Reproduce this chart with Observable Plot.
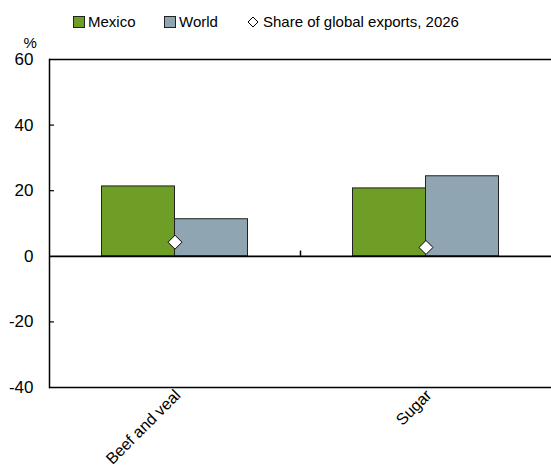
<!DOCTYPE html>
<html>
<head>
<meta charset="utf-8">
<script src="https://cdn.jsdelivr.net/npm/d3@7"></script>
<script src="https://cdn.jsdelivr.net/npm/@observablehq/plot@0.6"></script>
<style>
  html, body { margin: 0; padding: 0; background: #fff; overflow: hidden; }
  body { width: 551px; height: 471px; font-family: "Liberation Sans", Arial, sans-serif; }
  #legend { position: relative; height: 30px; font-size: 15px; color: #000; }
  #legend .item { position: absolute; top: 13px; display: flex; align-items: center; white-space: nowrap; }
  #legend .sw { width: 10px; height: 10px; border: 1px solid #222; margin-right: 3px; box-sizing: content-box; }
  #legend svg { margin-right: 4px; }
</style>
</head>
<body>
<div id="legend"></div>
<div id="chart"></div>
<script>
const categories = ["Beef and veal", "Sugar"];
const series = ["Mexico", "World"];
const mexicoValues = [21.3, 20.7];
const worldValues = [11.3, 24.4];
const shareValues = [4.3, 2.7];
const shareLabel = "Share of global exports, 2026";
const yTicks = [-40, -20, 0, 20, 40, 60];
const colors = {Mexico: "#6f9e27", World: "#8fa5b2"};

const width = 551, height = 441, marginLeft = 49, marginRight = 0, marginTop = 29, marginBottom = 84;
const band = (width - marginLeft - marginRight) / categories.length;
const barW = 73;

const bars = [];
categories.forEach((c, i) => {
  bars.push({category: c, series: "Mexico", value: mexicoValues[i]});
  bars.push({category: c, series: "World", value: worldValues[i]});
});
const shares = categories.map((c, i) => ({category: c, value: shareValues[i]}));

const plot = Plot.plot({
  width, height, marginLeft, marginRight, marginTop, marginBottom,
  style: {fontFamily: "'Liberation Sans', Arial, sans-serif", fontSize: "17px", color: "#000", background: "#fff"},
  x: {domain: categories, padding: 0, label: null},
  y: {domain: [-40, 60], label: null},
  marks: [
    Plot.barY(bars.filter(d => d.series === "Mexico"), {x: "category", y: "value", fill: colors.Mexico, stroke: "#222", strokeWidth: 1, insetLeft: band / 2 - barW, insetRight: band / 2}),
    Plot.barY(bars.filter(d => d.series === "World"), {x: "category", y: "value", fill: colors.World, stroke: "#222", strokeWidth: 1, insetLeft: band / 2, insetRight: band / 2 - barW}),
    Plot.ruleY([0], {stroke: "#000", strokeWidth: 1.8}),
    Plot.ruleY([60, -40], {stroke: "#000", strokeWidth: 1.5}),
    Plot.frame({anchor: "left", stroke: "#000", strokeWidth: 1.5}),
    Plot.ruleX(categories.slice(1), {x: d => d, y1: 0, y2: 1.6, dx: -band / 2, stroke: "#000", strokeWidth: 1.5}),
    Plot.axisY({ticks: yTicks, tickSize: 0, tickPadding: 16, tickFormat: d => String(d)}),
    Plot.tickY(yTicks.filter(t => t !== 0 && t !== 60 && t !== -40), {y: d => d, x: () => categories[0], insetLeft: 0, insetRight: band - 5, stroke: "#000", strokeWidth: 1.2}),
    Plot.axisX({tickSize: 0, tickRotate: -45, tickPadding: 5, dx: 3, fontSize: 16}),
    Plot.dot(shares, {x: "category", y: "value", symbol: "diamond2", r: 6.3, fill: "#fff", stroke: "#000", strokeWidth: 1}),
    Plot.text(["%"], {frameAnchor: "top-left", dx: -26, dy: -22, fontSize: 15})
  ]
});
document.getElementById("chart").appendChild(plot);

// legend
const legend = document.getElementById("legend");
const items = [
  {label: series[0], left: 73, type: "sw", color: colors.Mexico},
  {label: series[1], left: 164, type: "sw", color: colors.World},
  {label: shareLabel, left: 247, type: "diamond"}
];
items.forEach(it => {
  const div = document.createElement("div");
  div.className = "item";
  div.style.left = it.left + "px";
  if (it.type === "sw") {
    const s = document.createElement("span");
    s.className = "sw";
    s.style.background = it.color;
    div.appendChild(s);
  } else {
    div.innerHTML = '<svg width="12" height="12" viewBox="-6 -6 12 12"><path d="M0,-5L5,0L0,5L-5,0Z" fill="#fff" stroke="#000" stroke-width="1"/></svg>';
  }
  const t = document.createElement("span");
  t.textContent = it.label;
  div.appendChild(t);
  legend.appendChild(div);
});
</script>
</body>
</html>
